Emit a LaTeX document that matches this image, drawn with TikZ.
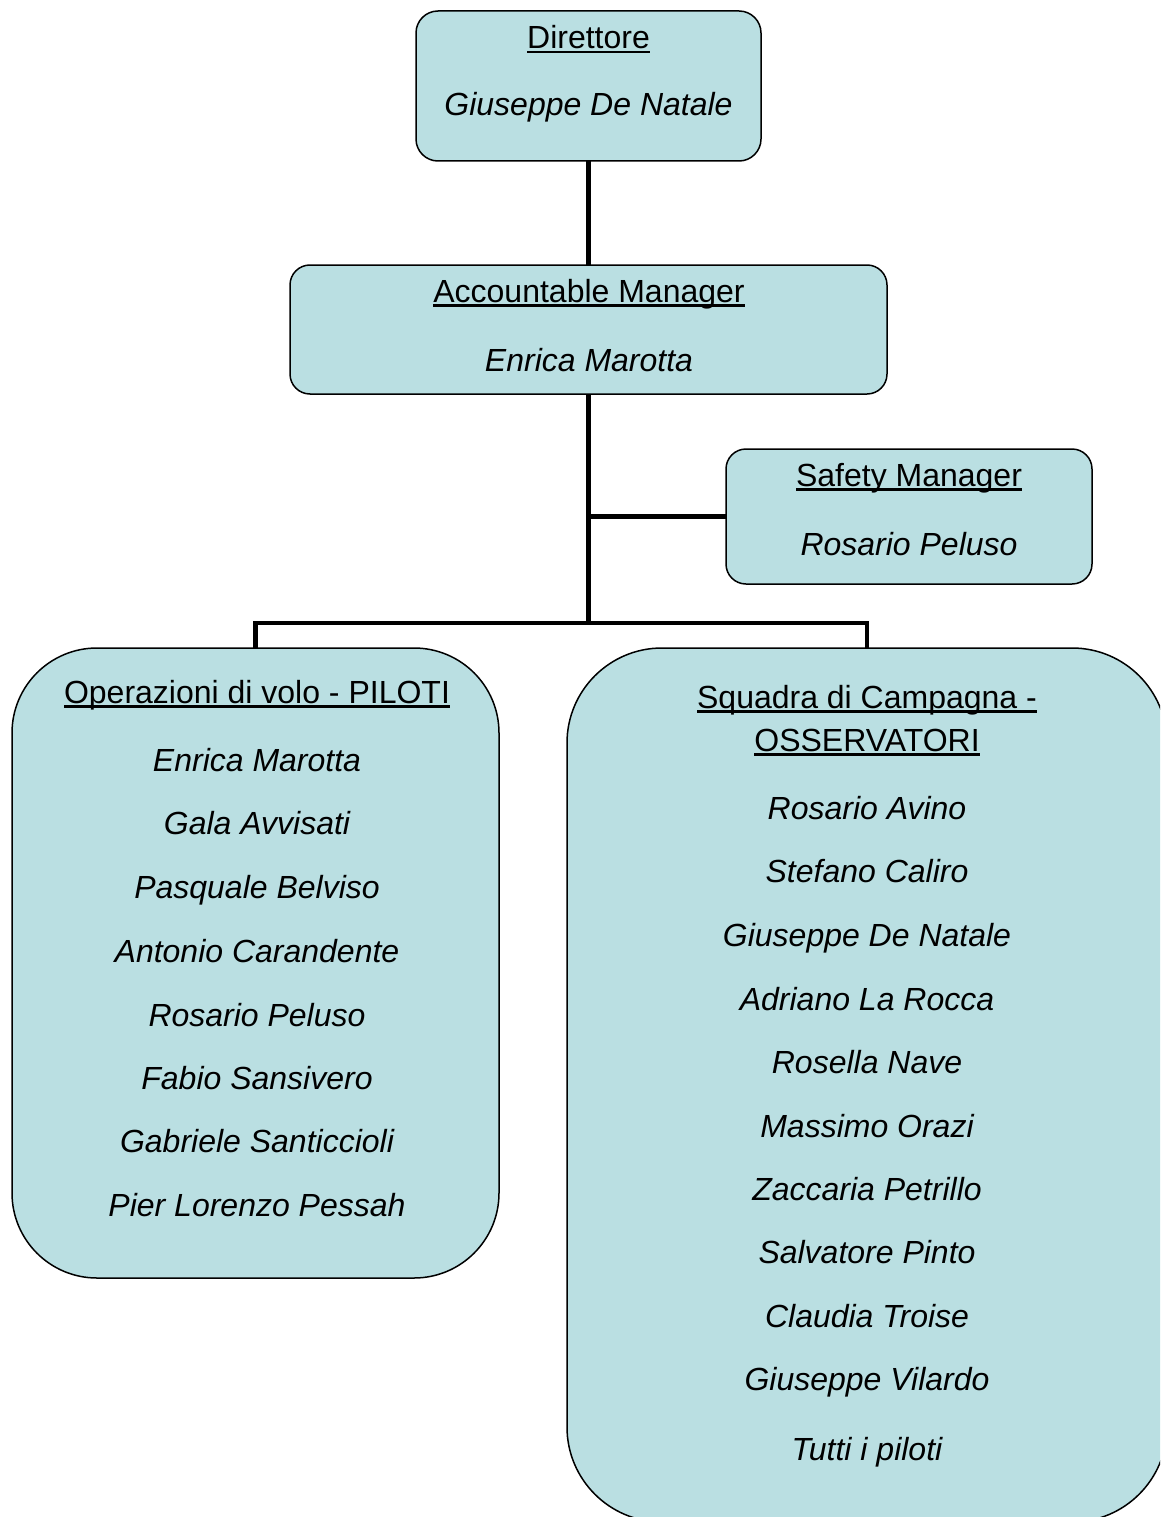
\documentclass[tikz,border=0pt]{standalone}
\usepackage{fontspec}
\setmainfont{Liberation Sans}
\definecolor{boxfill}{RGB}{186,223,226}
\newcommand\myul[1]{\leavevmode\setbox0=\hbox{#1}\rlap{\rule[-4.5pt]{\wd0}{2.2pt}}\box0}
\tikzset{
  orgbox/.style={draw=black, line width=1.5pt, fill=boxfill, inner sep=0pt, outer sep=0pt},
  hdr/.style={anchor=base, inner sep=0pt, font=\fontsize{32}{38}\selectfont},
  nm/.style={anchor=base, inner sep=0pt, font=\fontsize{32}{38}\selectfont\itshape},
  conn/.style={line width=4.5pt, black}
}
\begin{document}
\begin{tikzpicture}[x=1pt,y=-1pt]
\useasboundingbox (0,0) rectangle (1160,1517);
\clip (0,0) rectangle (1160,1517);
\fill[white] (0,0) rectangle (1160,1517);

% boxes
\node[orgbox, minimum width=345pt, minimum height=150pt, rounded corners=22pt] (dir) at (588.5,86) {};
\node[orgbox, minimum width=597pt, minimum height=129pt, rounded corners=20pt] (am) at (588.5,329.5) {};
\node[orgbox, minimum width=366pt, minimum height=135pt, rounded corners=20pt] (sm) at (909,516.5) {};
\node[orgbox, minimum width=487pt, minimum height=630pt, rounded corners=85pt] (op) at (255.5,963) {};
\node[orgbox, minimum width=600pt, minimum height=874pt, rounded corners=95pt] (sq) at (867,1085) {};

% connectors
\coordinate (j) at (588.5,623);
\draw[conn] (dir.south) -- (am.north);
\draw[conn] (am.south) -- (j);
\draw[conn] (sm.west) -- (sm.west -| am.south);
\draw[conn] (op.north) |- (j) -| (sq.north);

% Direttore
\node[hdr] (t1) at (588.5,49) {\myul{Direttore}};
\node[nm] (t2) at (588.5,116) {Giuseppe De Natale};
% Accountable Manager
\node[hdr] (t3) at (589,302) {\myul{Accountable Manager}};
\node[nm] (t4) at (589,371) {Enrica Marotta};
% Safety Manager
\node[hdr] (t5) at (909,486) {\myul{Safety Manager}};
\node[nm] (t6) at (909,555) {Rosario Peluso};
% Operazioni di volo
\node[hdr] (o0) at (257,703) {\myul{Operazioni di volo - PILOTI}};
\node[nm] (o1) at (257,771) {Enrica Marotta};
\node[nm] (o2) at (257,834) {Gala Avvisati};
\node[nm] (o3) at (257,898) {Pasquale Belviso};
\node[nm] (o4) at (257,962) {Antonio Carandente};
\node[nm] (o5) at (257,1026) {Rosario Peluso};
\node[nm] (o6) at (257,1089) {Fabio Sansivero};
\node[nm] (o7) at (257,1152) {Gabriele Santiccioli};
\node[nm] (o8) at (257,1216) {Pier Lorenzo Pessah};
% Squadra di Campagna
\node[hdr] (s0a) at (867,708) {\myul{Squadra di Campagna -}};
\node[hdr] (s0b) at (867,751) {\myul{OSSERVATORI}};
\node[nm] (s1) at (867,819) {Rosario Avino};
\node[nm] (s2) at (867,882) {Stefano Caliro};
\node[nm] (s3) at (867,946) {Giuseppe De Natale};
\node[nm] (s4) at (867,1010) {Adriano La Rocca};
\node[nm] (s5) at (867,1073) {Rosella Nave};
\node[nm] (s6) at (867,1137) {Massimo Orazi};
\node[nm] (s7) at (867,1200) {Zaccaria Petrillo};
\node[nm] (s8) at (867,1263) {Salvatore Pinto};
\node[nm] (s9) at (867,1327) {Claudia Troise};
\node[nm] (s10) at (867,1390) {Giuseppe Vilardo};
\node[nm] (s11) at (867,1460) {Tutti i piloti};
\end{tikzpicture}
\end{document}
